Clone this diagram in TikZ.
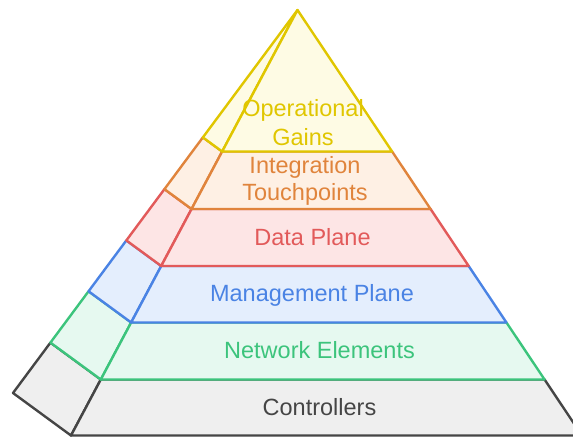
\documentclass[tikz,border=0pt]{standalone}
\usepackage{fontspec}
\setmainfont{Liberation Sans}
\usetikzlibrary{calc}

% tier colours: outline / fill
\definecolor{gainsline}{HTML}{E0C600}
\definecolor{gainsfill}{HTML}{FEFBE4}
\definecolor{integline}{HTML}{E0843C}
\definecolor{integfill}{HTML}{FEF0E4}
\definecolor{dataline}{HTML}{E25A5A}
\definecolor{datafill}{HTML}{FDE5E5}
\definecolor{mgmtline}{HTML}{4A83E4}
\definecolor{mgmtfill}{HTML}{E4EEFD}
\definecolor{netline}{HTML}{3CC47C}
\definecolor{netfill}{HTML}{E6F9F0}
\definecolor{ctrlline}{HTML}{454545}
\definecolor{ctrlfill}{HTML}{EFEFEF}

\tikzset{
  tier/.style 2 args={draw=#1, fill=#2, line width=2.4pt, line join=round},
  tierlabel/.style={anchor=base, inner sep=0pt, text=#1,
    font=\fontsize{23.5}{28}\selectfont},
}

\begin{document}
\begin{tikzpicture}[x=1pt, y=-1pt]
  \useasboundingbox (0,0) rectangle (573,437);
  \clip (0,0) rectangle (573,437);

  % apex and the three base corners (front left, front right, back left)
  \coordinate (A)  at (297.5,10);
  \coordinate (BL) at (71,435.5);
  \coordinate (BR) at (582,435.5);
  \coordinate (BK) at (13,393);

  % tier boundaries along the three edges
  \coordinate (L1) at ($(A)!0.3326!(BL)$);
  \coordinate (R1) at ($(A)!0.3326!(BR)$);
  \coordinate (K1) at ($(A)!0.3326!(BK)$);
  \coordinate (L2) at ($(A)!0.4677!(BL)$);
  \coordinate (R2) at ($(A)!0.4677!(BR)$);
  \coordinate (K2) at ($(A)!0.4677!(BK)$);
  \coordinate (L3) at ($(A)!0.6016!(BL)$);
  \coordinate (R3) at ($(A)!0.6016!(BR)$);
  \coordinate (K3) at ($(A)!0.6016!(BK)$);
  \coordinate (L4) at ($(A)!0.7344!(BL)$);
  \coordinate (R4) at ($(A)!0.7344!(BR)$);
  \coordinate (K4) at ($(A)!0.7344!(BK)$);
  \coordinate (L5) at ($(A)!0.8684!(BL)$);
  \coordinate (R5) at ($(A)!0.8684!(BR)$);
  \coordinate (K5) at ($(A)!0.8684!(BK)$);

  % tiers, bottom to top, so each upper outline lies over the one below
  \path[tier={ctrlline}{ctrlfill}] (K5) -- (L5) -- (BL) -- (BK) -- cycle;
  \path[tier={ctrlline}{ctrlfill}] (L5) -- (R5) -- (BR) -- (BL) -- cycle;

  \path[tier={netline}{netfill}] (K4) -- (L4) -- (L5) -- (K5) -- cycle;
  \path[tier={netline}{netfill}] (L4) -- (R4) -- (R5) -- (L5) -- cycle;

  \path[tier={mgmtline}{mgmtfill}] (K3) -- (L3) -- (L4) -- (K4) -- cycle;
  \path[tier={mgmtline}{mgmtfill}] (L3) -- (R3) -- (R4) -- (L4) -- cycle;

  \path[tier={dataline}{datafill}] (K2) -- (L2) -- (L3) -- (K3) -- cycle;
  \path[tier={dataline}{datafill}] (L2) -- (R2) -- (R3) -- (L3) -- cycle;

  \path[tier={integline}{integfill}] (K1) -- (L1) -- (L2) -- (K2) -- cycle;
  \path[tier={integline}{integfill}] (L1) -- (R1) -- (R2) -- (L2) -- cycle;

  \path[tier={gainsline}{gainsfill}] (A) -- (L1) -- (K1) -- cycle;
  \path[tier={gainsline}{gainsfill}] (A) -- (R1) -- (L1) -- cycle;

  % labels
  \node[tierlabel=gainsline] (gains1) at (303,116.7) {Operational};
  \node[tierlabel=gainsline] (gains2) at (303,145) {Gains};
  \node[tierlabel=integline] (integ1) at (305,173.3) {Integration};
  \node[tierlabel=integline] (integ2) at (305,200) {Touchpoints};
  \node[tierlabel=dataline]  (data)   at (312.5,245) {Data Plane};
  \node[tierlabel=mgmtline]  (mgmt)   at (312,301.7) {Management Plane};
  \node[tierlabel=netline]   (net)    at (319.5,358.3) {Network Elements};
  \node[tierlabel=ctrlline]  (ctrl)   at (319.5,415) {Controllers};
\end{tikzpicture}
\end{document}
